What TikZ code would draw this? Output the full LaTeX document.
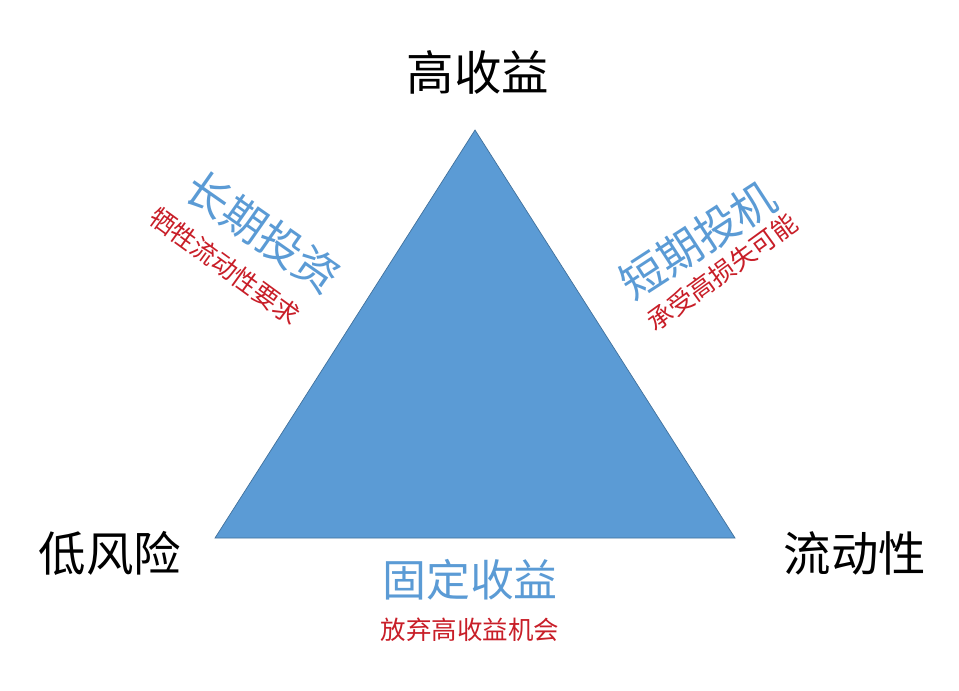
\documentclass[tikz,border=0pt]{standalone}
\usepackage{fontspec}
\setmainfont{Noto Sans CJK SC}
\definecolor{triblue}{RGB}{91,155,213}
\definecolor{triedge}{RGB}{65,113,156}
\definecolor{notered}{RGB}{200,30,40}
\begin{document}
\begin{tikzpicture}[x=0.02cm,y=-0.02cm,
    corner/.style={font=\fontsize{27}{29}\selectfont},
    sidelabel/.style={text=triblue,font=\fontsize{25}{27}\selectfont},
    notelabel/.style={text=notered,font=\fontsize{14.5}{16}\selectfont}]
        \useasboundingbox (0,0) rectangle (959,690);

        \coordinate (T) at (475,130);
        \coordinate (L) at (215,538);
        \coordinate (R) at (735,538);

        \filldraw[draw=triedge, fill=triblue] (T) -- (L) -- (R) -- cycle;

        \node[corner] (top) at (478,72) {高收益};
        \node[corner] (left) at (110,553) {低风险};
        \node[corner] (right) at (855,553) {流动性};

        \node[sidelabel, rotate=-35] (longterm) at (263,232) {长期投资};
        \node[notelabel, rotate=-36] (longnote) at (225,266) {牺牲流动性要求};

        \node[sidelabel, rotate=33] (shortterm) at (698,240) {短期投机};
        \node[notelabel, rotate=36] (shortnote) at (722,272) {承受高损失可能};

        \node[sidelabel] (fixed) at (470,580) {固定收益};
        \node[notelabel] (fixednote) at (470,630) {放弃高收益机会};
    \end{tikzpicture}
\end{document}
